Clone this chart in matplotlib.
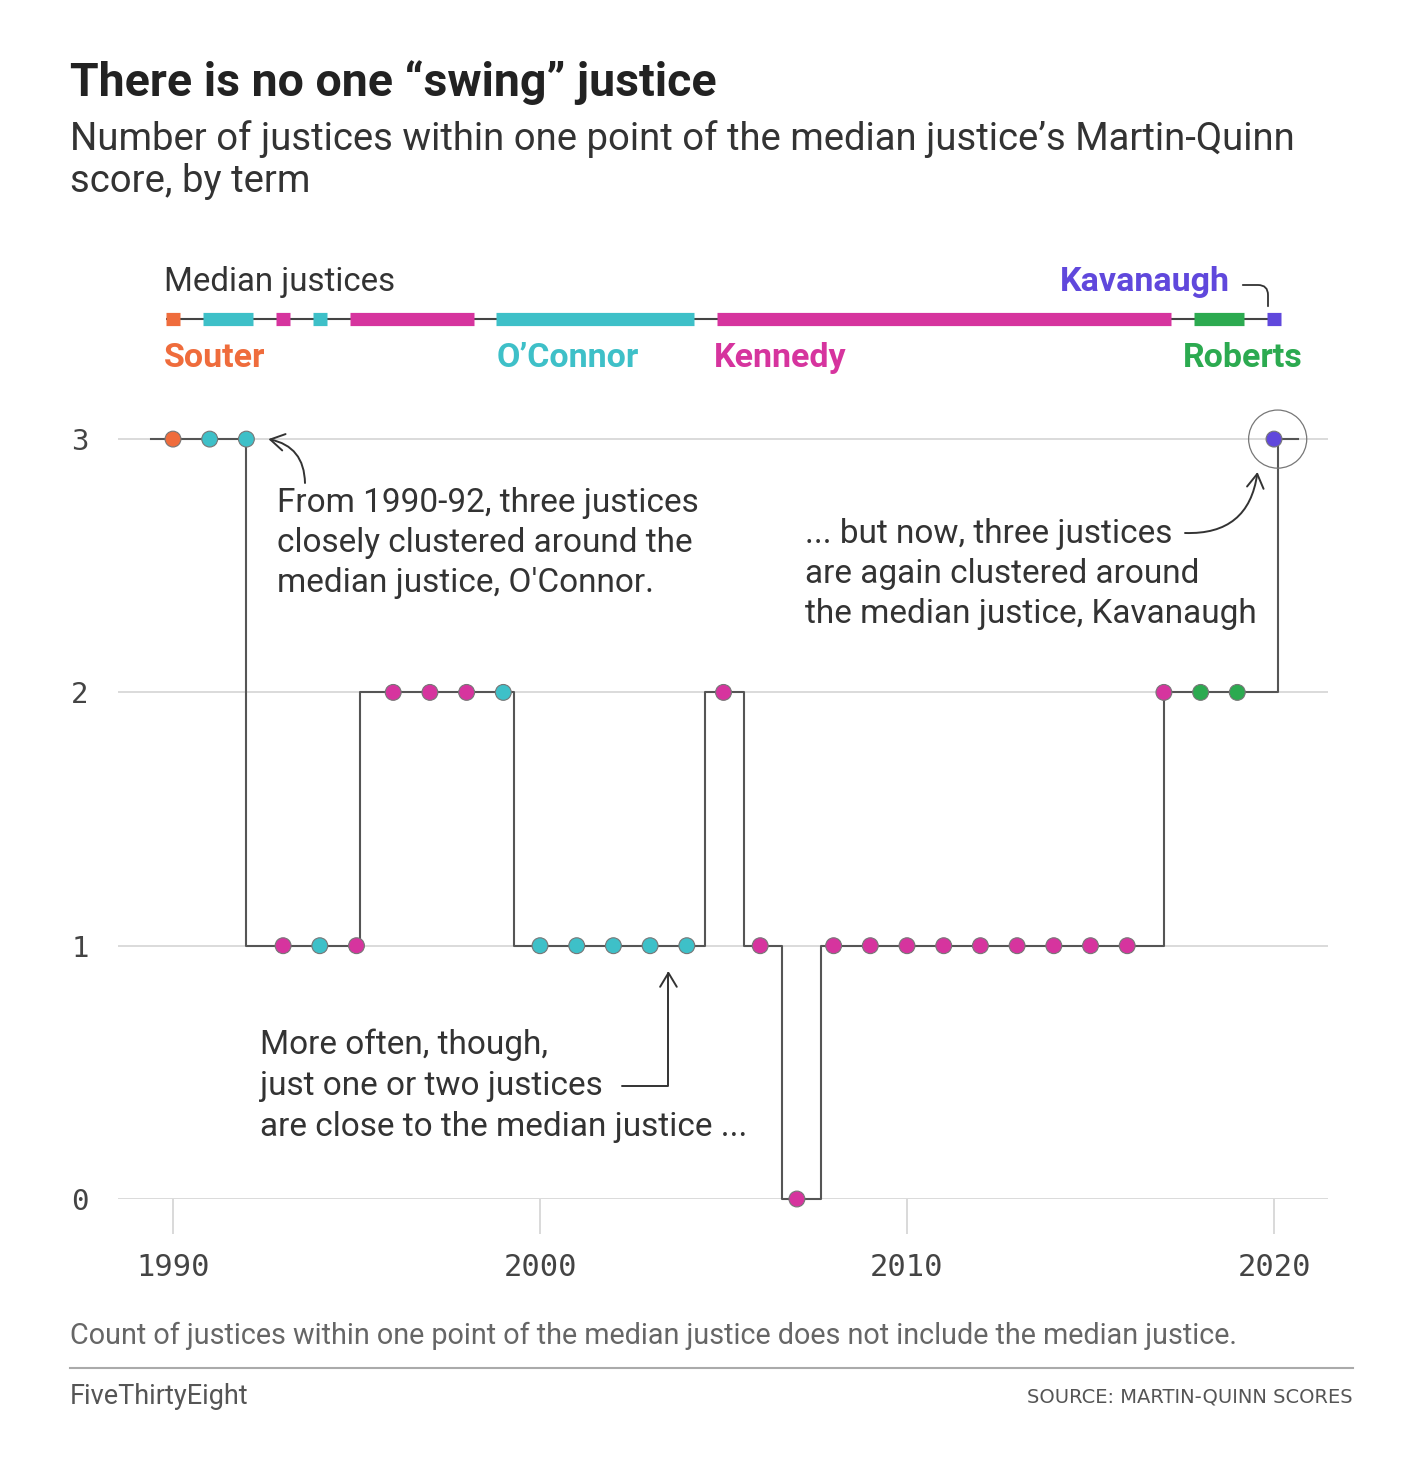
import matplotlib
matplotlib.use("Agg")
import matplotlib.pyplot as plt
from matplotlib.patches import FancyArrowPatch

# term years, count of justices within one point of the median, and who was median
years = list(range(1990, 2021))
counts = [3, 3, 3, 1, 1, 1, 2, 2, 2, 2,
          1, 1, 1, 1, 1, 2, 1, 0, 1, 1,
          1, 1, 1, 1, 1, 1, 1, 2, 2, 2, 3]
medians = (["Souter"] + ["O'Connor"] * 2 + ["Kennedy", "O'Connor"] + ["Kennedy"] * 4
           + ["O'Connor"] * 6 + ["Kennedy"] * 13 + ["Roberts"] * 2 + ["Kavanaugh"])

# where the connecting step line changes level
step_x = [1989.4, 1992.0, 1995.1, 1999.3, 2004.5, 2005.55, 2006.6, 2007.65, 2017.0, 2020.1, 2020.65]
step_y = [3, 1, 2, 1, 2, 1, 0, 1, 2, 3, 3]

colors = {"Souter": "#ef6c3c", "O'Connor": "#3ec0c8", "Kennedy": "#d6349e",
          "Roberts": "#2caa50", "Kavanaugh": "#6048dc"}

W, H = 1420, 1476
plt.rcParams["font.family"] = ["Roboto", "DejaVu Sans"]


def px(x, y):
    return x / W, 1 - y / H


fig = plt.figure(figsize=(W / 100, H / 100), dpi=100)
fig.patch.set_facecolor("white")

# main chart
ax = fig.add_axes([118 / W, 1 - 1199 / H, 1210 / W, 3.2 * 253.3 / H])
ax.set_xlim(1990 - 55 / 36.7, 1990 + 1155 / 36.7)
ax.set_ylim(0, 3.2)
for s in ax.spines.values():
    s.set_visible(False)
ax.set_yticks([0, 1, 2, 3])
ax.grid(axis="y", color="#d4d4d4", lw=1.2)
ax.set_axisbelow(True)
ax.tick_params(axis="y", length=0, pad=21, labelsize=21, labelcolor="#444")
ax.set_xticks([1990, 2000, 2010, 2020])
ax.tick_params(axis="x", length=25, width=1.1, color="#d0d0d0", pad=14,
               labelsize=22, labelcolor="#444")
for lab in ax.get_xticklabels() + ax.get_yticklabels():
    lab.set_family("DejaVu Sans Mono")

ax.plot(step_x, step_y, drawstyle="steps-post", color="#555555", lw=1.5, zorder=2,
        clip_on=False)
ax.scatter(years, counts, s=130, c=[colors[m] for m in medians],
           edgecolors="#777777", linewidths=0.8, zorder=3, clip_on=False)
# highlight ring around the latest term
ax.scatter([years[-1] + 0.1], [counts[-1]], s=1750, facecolors="none",
           edgecolors="#777777", linewidths=0.9, zorder=3, clip_on=False)

# median justice timeline
tl = fig.add_axes([118 / W, 1 - 338 / H, 1210 / W, 38 / H], sharex=ax)
tl.set_ylim(0, 1)
tl.axis("off")
tl.plot([years[0] - 0.2, years[-1] + 0.2], [0.5, 0.5], color="#444444", lw=1.5,
        solid_capstyle="butt")
runs = []
start = 0
for i in range(1, len(years) + 1):
    if i == len(years) or medians[i] != medians[start]:
        runs.append((medians[start], years[start], years[i - 1]))
        start = i
for name, y0, y1 in runs:
    tl.plot([y0 - 0.19, y1 + 0.19], [0.5, 0.5], color=colors[name], lw=9.5,
            solid_capstyle="butt")

# titles
fig.text(*px(70, 83), "There is no one \u201cswing\u201d justice", fontsize=33.5,
         fontweight="bold", color="#222222", va="center")
fig.text(*px(70, 139), "Number of justices within one point of the median justice\u2019s Martin-Quinn",
         fontsize=27.5, color="#333333", va="center")
fig.text(*px(70, 182), "score, by term", fontsize=27.5, color="#333333", va="center")

lab = dict(fontsize=24.5, fontweight="bold", va="center")
fig.text(*px(164, 282), "Median justices", fontsize=23.8, color="#333333", va="center")
fig.text(*px(164, 358), "Souter", color=colors["Souter"], **lab)
fig.text(*px(497, 358), "O\u2019Connor", color=colors["O'Connor"], **lab)
fig.text(*px(714, 358), "Kennedy", color=colors["Kennedy"], **lab)
fig.text(*px(1303, 358), "Roberts", color=colors["Roberts"], ha="right", **lab)
fig.text(*px(1230, 282), "Kavanaugh", color=colors["Kavanaugh"], ha="right", **lab)
fig.add_artist(FancyArrowPatch(
    px(1240, 285), px(1268, 309), transform=fig.transFigure, arrowstyle="-",
    connectionstyle="angle,angleA=0,angleB=90,rad=10", color="#333333", lw=1.3))

# annotations
ann = dict(fontsize=24, color="#333333", va="center")
for i, line in enumerate(["From 1990-92, three justices", "closely clustered around the",
                          "median justice, O'Connor."]):
    fig.text(*px(277, 503 + 40 * i), line, **ann)
for i, line in enumerate(["... but now, three justices", "are again clustered around",
                          "the median justice, Kavanaugh"]):
    fig.text(*px(805, 534 + 40 * i), line, **ann)
for i, line in enumerate(["More often, though,", "just one or two justices",
                          "are close to the median justice ..."]):
    fig.text(*px(260, 1045 + 41 * i), line, **ann)

arrow = dict(arrowstyle="->,head_length=0.5,head_width=0.3", color="#333333", lw=1.4,
             mutation_scale=20, shrinkA=0, shrinkB=0)
ax.annotate("", xy=(1992.6, 3.0), xytext=px(305, 483), textcoords="figure fraction",
            arrowprops=dict(connectionstyle="arc3,rad=0.4", **arrow))
ax.annotate("", xy=(2019.55, 2.87), xytext=px(1185, 533), textcoords="figure fraction",
            arrowprops=dict(connectionstyle="arc3,rad=0.45", **arrow))
ax.annotate("", xy=(2003.5, 0.9), xytext=px(622, 1086), textcoords="figure fraction",
            arrowprops=dict(connectionstyle="angle,angleA=0,angleB=90,rad=0", **arrow))

# footer
fig.text(*px(70, 1336), "Count of justices within one point of the median justice does not include the median justice.",
         fontsize=20.7, color="#666666", va="center")
fig.add_artist(plt.Line2D([70 / W, 1353 / W], [1 - 1368 / H] * 2, color="#aaaaaa", lw=1.5))
fig.text(*px(70, 1397), "FiveThirtyEight", fontsize=19.5, color="#555555", va="center")
fig.text(*px(1353, 1397), "SOURCE: MARTIN-QUINN SCORES", fontsize=14, color="#555555",
         va="center", ha="right", family="DejaVu Sans")

fig.savefig("out.png", dpi=100)
